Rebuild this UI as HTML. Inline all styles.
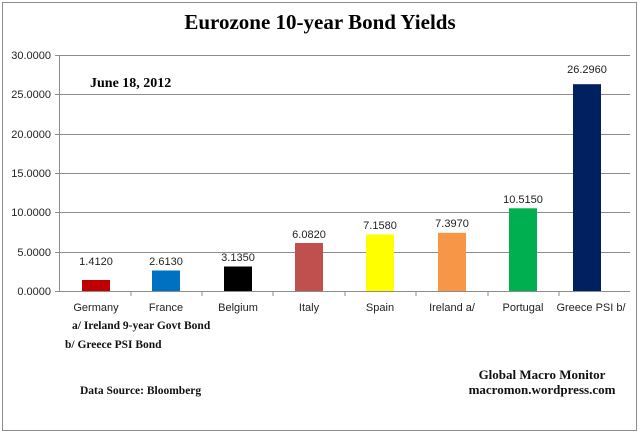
<!DOCTYPE html>
<html><head><style>
body{margin:0;background:#fff;}
svg{display:block;}
</style></head><body>
<svg width="640" height="434" xmlns="http://www.w3.org/2000/svg">
<rect x="0" y="0" width="640" height="434" fill="#fff"/>
<rect x="2.5" y="2.5" width="634" height="428" fill="none" stroke="#8c8c8c" stroke-width="1"/>
<text x="320" y="29" text-anchor="middle" font-family="Liberation Serif, serif" font-weight="bold" font-size="21">Eurozone 10-year Bond Yields</text>
<g stroke="#8c8c8c" stroke-width="1">
<line x1="59" y1="55.5" x2="630" y2="55.5"/>
<line x1="59" y1="94.5" x2="630" y2="94.5"/>
<line x1="59" y1="134.5" x2="630" y2="134.5"/>
<line x1="59" y1="173.5" x2="630" y2="173.5"/>
<line x1="59" y1="212.5" x2="630" y2="212.5"/>
<line x1="59" y1="252.5" x2="630" y2="252.5"/>
<line x1="59" y1="291.5" x2="630" y2="291.5"/>
<line x1="59.5" y1="55" x2="59.5" y2="291"/>
<line x1="131" y1="291" x2="131" y2="296"/>
<line x1="202" y1="291" x2="202" y2="296"/>
<line x1="273" y1="291" x2="273" y2="296"/>
<line x1="345" y1="291" x2="345" y2="296"/>
<line x1="416" y1="291" x2="416" y2="296"/>
<line x1="488" y1="291" x2="488" y2="296"/>
<line x1="559" y1="291" x2="559" y2="296"/>
<line x1="55" y1="55.5" x2="59" y2="55.5"/><line x1="55" y1="94.5" x2="59" y2="94.5"/><line x1="55" y1="134.5" x2="59" y2="134.5"/><line x1="55" y1="173.5" x2="59" y2="173.5"/><line x1="55" y1="212.5" x2="59" y2="212.5"/><line x1="55" y1="252.5" x2="59" y2="252.5"/><line x1="55" y1="291.5" x2="59" y2="291.5"/>
</g>
<g font-family="Liberation Sans, sans-serif" font-size="11" fill="#222" text-anchor="end">
<text x="51" y="59">30.0000</text><text x="51" y="98">25.0000</text><text x="51" y="138">20.0000</text><text x="51" y="177">15.0000</text><text x="51" y="216">10.0000</text><text x="51" y="256">5.0000</text><text x="51" y="295">0.0000</text>
</g>
<text x="90" y="87" font-family="Liberation Serif, serif" font-weight="bold" font-size="14">June 18, 2012</text>
<g>
<rect x="82" y="280" width="28" height="11" fill="#c00000"/>
<rect x="152" y="270.5" width="28" height="20.5" fill="#0070c0"/>
<rect x="224" y="266.5" width="28" height="24.5" fill="#000"/>
<rect x="295" y="243" width="28" height="48" fill="#c0504d"/>
<rect x="366" y="234.5" width="28" height="56.5" fill="#ffff00"/>
<rect x="438" y="232.8" width="28" height="58.2" fill="#f79646"/>
<rect x="509" y="208.3" width="28" height="82.7" fill="#00b050"/>
<rect x="573" y="84.2" width="28" height="206.8" fill="#002060"/>
</g>
<g font-family="Liberation Sans, sans-serif" font-size="11" fill="#222" text-anchor="middle">
<text x="96" y="265">1.4120</text>
<text x="166" y="265">2.6130</text>
<text x="238" y="261">3.1350</text>
<text x="309" y="238">6.0820</text>
<text x="380" y="229">7.1580</text>
<text x="452" y="227">7.3970</text>
<text x="523" y="203">10.5150</text>
<text x="587" y="73">26.2960</text>
<text x="96" y="311">Germany</text>
<text x="166" y="311">France</text>
<text x="238" y="311">Belgium</text>
<text x="309" y="311">Italy</text>
<text x="380" y="311">Spain</text>
<text x="452" y="311">Ireland  a/</text>
<text x="523" y="311">Portugal</text>
<text x="591" y="311">Greece PSI b/</text>
</g>
<g font-family="Liberation Serif, serif" font-weight="bold" font-size="11.5" fill="#111">
<text x="72" y="329">a/  Ireland 9-year Govt Bond</text>
<text x="65" y="348">b/  Greece PSI Bond</text>
<text x="80" y="394">Data Source:  Bloomberg</text>
<text x="542" y="379" text-anchor="middle" font-size="13">Global Macro Monitor</text>
<text x="542" y="394" text-anchor="middle" font-size="13">macromon.wordpress.com</text>
</g>
</svg>
</body></html>
